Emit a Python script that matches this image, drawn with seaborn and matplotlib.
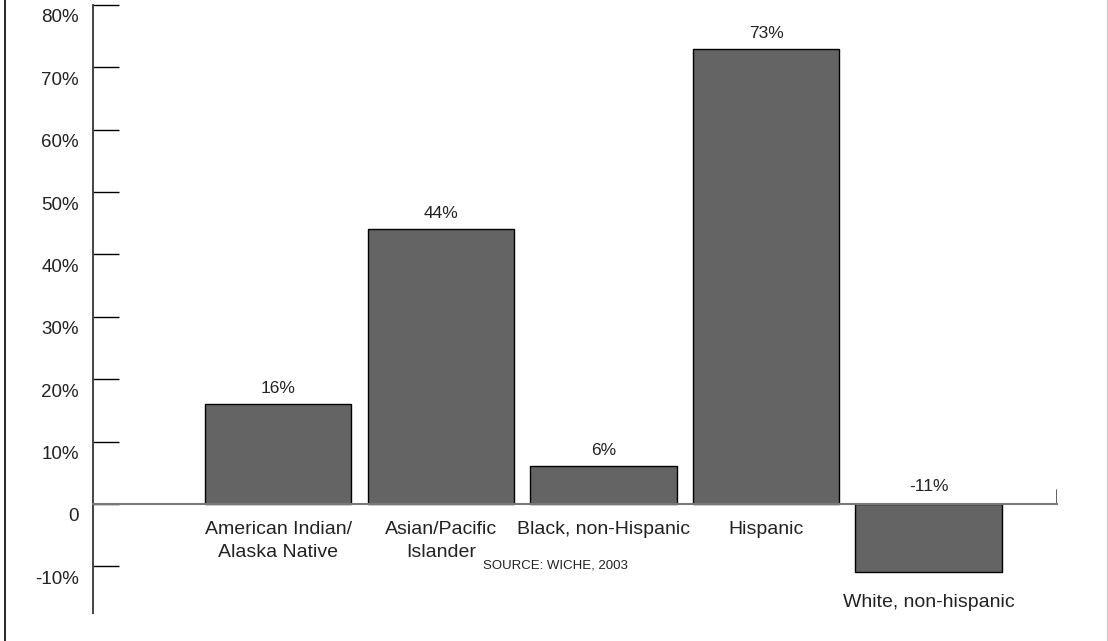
import matplotlib
matplotlib.use('Agg')

import seaborn as sns
import matplotlib.pyplot as plt
import matplotlib.transforms as mtransforms
from matplotlib.lines import Line2D

groups = ['American Indian/\nAlaska Native', 'Asian/Pacific\nIslander', 'Black, non-Hispanic',
          'Hispanic', 'White, non-hispanic']
change = [16, 44, 6, 73, -11]
yticks = [-10, 0, 10, 20, 30, 40, 50, 60, 70, 80]
ytick_labels = ['-10%', '0', '10%', '20%', '30%', '40%', '50%', '60%', '70%', '80%']
source = 'SOURCE: WICHE, 2003'

sns.set_style('white')
plt.rcParams['font.family'] = ['Liberation Sans', 'DejaVu Sans']

fig = plt.figure(figsize=(11.08, 6.41), dpi=100)
ax = fig.add_axes([93 / 1108, 1 - 613 / 641, (1057 - 93) / 1108, (613 - 5) / 641])

sns.barplot(x=list(range(len(groups))), y=change, color='#646464', saturation=1,
            edgecolor='black', linewidth=1, width=0.9, ax=ax, native_scale=True)

ax.set_xlim(-1.14, 4.79)
ax.set_ylim(-17.5, 80)

# axes styling
for s in ['top', 'right']:
    ax.spines[s].set_visible(False)
ax.spines['left'].set_color('#444444')
ax.spines['left'].set_linewidth(1.4)
ax.spines['bottom'].set_position(('data', 0))
ax.spines['bottom'].set_color('#777777')
ax.spines['bottom'].set_linewidth(1.5)
ax.set_xticks([])
ax.set_yticks(yticks)
ax.set_yticklabels(ytick_labels, fontsize=13.5, color='#222222')
ax.tick_params(axis='y', direction='in', length=19, width=1, color='black', pad=10, left=True)
ax.set_xlabel('')
ax.set_ylabel('')

# labels sit a little below their tick marks in the original
shift = mtransforms.ScaledTranslation(0, -11 / 100, fig.dpi_scale_trans)
for lab in ax.get_yticklabels():
    lab.set_transform(lab.get_transform() + shift)

# small end tick on the zero line
ax.axvline(4.79, ymin=17.5 / 97.5, ymax=(17.5 + 2.3) / 97.5, color='#444444', lw=1.2)

# value + category labels
for i, (g, v) in enumerate(zip(groups, change)):
    if v >= 0:
        ax.annotate(f'{v}%', (i, v), xytext=(0, 8), textcoords='offset pixels',
                    ha='center', va='bottom', fontsize=12.5, color='#222222')
        ax.annotate(g, (i, 0), xytext=(0, -17), textcoords='offset pixels',
                    ha='center', va='top', fontsize=14, color='#222222', linespacing=1.45)
    else:
        ax.annotate(f'{v}%', (i, 0), xytext=(0, 10), textcoords='offset pixels',
                    ha='center', va='bottom', fontsize=12.5, color='#222222')
        ax.annotate(g, (i, v), xytext=(0, -22), textcoords='offset pixels',
                    ha='center', va='top', fontsize=14, color='#222222')

fig.text(555 / 1108, 1 - 565 / 641, source, ha='center', va='center', fontsize=9.5, color='#222222')

# frame lines of the original graphic
fig.add_artist(Line2D([5 / 1108, 5 / 1108], [0, 1], color='black', lw=1.2))
fig.add_artist(Line2D([1107 / 1108, 1107 / 1108], [0, 1], color='#cccccc', lw=1))

fig.savefig('out.png', dpi=100)
